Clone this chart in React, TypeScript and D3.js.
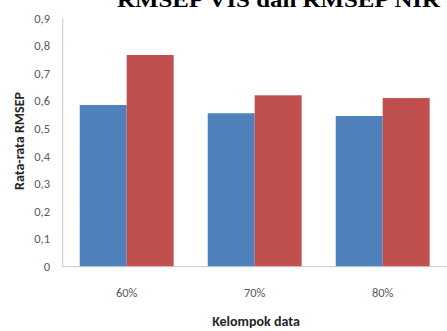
import { scaleBand, scaleLinear } from "d3";

// data
const groups = ["60%", "70%", "80%"];
const seriesA = [0.586, 0.556, 0.546];
const seriesB = [0.767, 0.621, 0.611];
const yTicks = [0, 0.1, 0.2, 0.3, 0.4, 0.5, 0.6, 0.7, 0.8, 0.9];
const colors = ["#4F81BD", "#C0504D"];

const W = 447;
const H = 331;
const font = "Carlito, 'Liberation Sans Narrow', 'Liberation Sans', Arial, sans-serif";

export default function App() {
  const left = 62.7;
  const right = 446.7;
  const base = 266.7;
  const top = 18.3;

  const x = scaleBand<string>().domain(groups).range([left, right]).paddingInner(0.266).paddingOuter(0.133);
  const sub = scaleBand<number>().domain([0, 1]).range([0, x.bandwidth()]);
  const y = scaleLinear().domain([0, 0.9]).range([base, top]);

  const fmt = (v: number) => (v === 0 ? "0" : v.toFixed(1).replace(".", ","));

  return (
    <div style={{ position: "absolute", left: 0, top: 0 }}>
      <svg width={W} height={H} style={{ display: "block", background: "#fff" }}>
        {/* title, mostly cut off by the top edge */}
        <text
          x={117}
          y={7}
          fontFamily="'Liberation Serif', 'DejaVu Serif', serif"
          fontWeight="bold"
          fontSize={22}
          textLength={323}
          lengthAdjust="spacingAndGlyphs"
          fill="#000"
        >
          RMSEP VIS dan RMSEP NIR
        </text>

        {/* bars */}
        {groups.map((g, i) =>
          [seriesA[i], seriesB[i]].map((v, s) => (
            <rect
              key={g + s}
              x={(x(g) || 0) + (sub(s) || 0)}
              y={y(v)}
              width={sub.bandwidth()}
              height={base - y(v)}
              fill={colors[s]}
            />
          )),
        )}

        {/* axes */}
        <line x1={left} x2={left} y1={top} y2={base} stroke="#c8c8c8" strokeWidth={1} />
        <line x1={left} x2={right} y1={base} y2={base} stroke="#c8c8c8" strokeWidth={1} />

        {yTicks.map((t) => (
          <text key={t} x={50} y={y(t)} dy="0.35em" textAnchor="end" fontFamily={font} fontSize={12.5} fill="#595959">
            {fmt(t)}
          </text>
        ))}

        {groups.map((g) => (
          <text
            key={g}
            x={(x(g) || 0) + x.bandwidth() / 2}
            y={293}
            dy="0.35em"
            textAnchor="middle"
            fontFamily={font}
            fontSize={12.5}
            fill="#595959"
          >
            {g}
          </text>
        ))}

        <text
          transform={`translate(19,141) rotate(-90)`}
          textAnchor="middle"
          dy="0.35em"
          fontFamily={font}
          fontWeight="bold"
          fontSize={14}
          fill="#262626"
        >
          Rata-rata RMSEP
        </text>

        <text
          x={256}
          y={326}
          textAnchor="middle"
          fontFamily={font}
          fontWeight="bold"
          fontSize={14}
          fill="#262626"
        >
          Kelompok data
        </text>
      </svg>
    </div>
  );
}
